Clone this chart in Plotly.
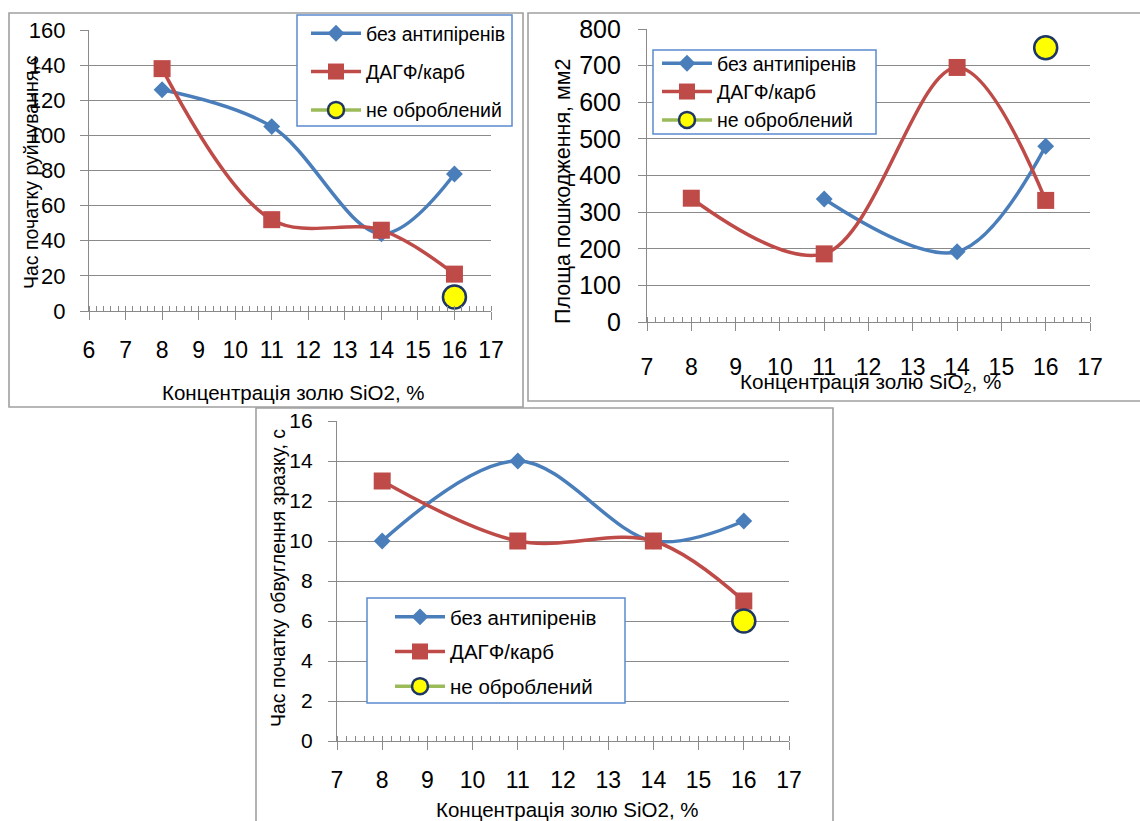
import plotly.graph_objects as go

W, H = 1140, 821

# ---------------- data ----------------
names = ["без антипіренів", "ДАГФ/карб", "не оброблений"]

# chart 1: час початку руйнування
c1_x_bez = [8, 11, 14, 16]
c1_bez = [126, 105, 44, 78]
c1_x_dagf = [8, 11, 14, 16]
c1_dagf = [138, 52, 46, 21]
c1_x_neobr = [16]
c1_neobr = [8]

# chart 2: площа пошкодження
c2_x_bez = [11, 14, 16]
c2_bez = [336, 192, 480]
c2_x_dagf = [8, 11, 14, 16]
c2_dagf = [338, 186, 695, 332]
c2_x_neobr = [16]
c2_neobr = [749]

# chart 3: час початку обвуглення
c3_x_bez = [8, 11, 14, 16]
c3_bez = [10, 14, 10, 11]
c3_x_dagf = [8, 11, 14, 16]
c3_dagf = [13, 10, 10, 7]
c3_x_neobr = [16]
c3_neobr = [6]

x_title_plain = "Концентрація золю SiO2, %"
x_title_sub = "Концентрація золю SiO<sub>2</sub>, %"
y_title1 = "Час початку руйнування,с"
y_title2 = "Площа пошкодження, мм2"
y_title3 = "Час початку обвуглення зразку, с"

# ---------------- style ----------------
FONT = "Liberation Sans, Arial, sans-serif"
BLUE = "#4a7ebb"
RED = "#be4b48"
GREEN = "#9bbb59"
YELLOW = "#ffff00"
NAVY = "#1f3763"
GRID = "#8a8a8a"
FRAME = "#a0a0a0"
LEGBORDER = "#5b8bd0"


def px(x):
    return x / W


def py(y):
    return 1 - y / H


fig = go.Figure()


def add_series(xs_b, ys_b, xs_d, ys_d, xs_n, ys_n, xa, ya, leg, lw=3.5):
    fig.add_trace(go.Scatter(
        x=xs_b, y=ys_b, name=names[0], mode="lines+markers",
        line=dict(color=BLUE, width=lw, shape="spline", smoothing=1.0),
        marker=dict(symbol="diamond", size=13, color=BLUE),
        xaxis=xa, yaxis=ya, legend=leg, legendgroup=leg + "a"))
    fig.add_trace(go.Scatter(
        x=xs_d, y=ys_d, name=names[1], mode="lines+markers",
        line=dict(color=RED, width=lw, shape="spline", smoothing=1.0),
        marker=dict(symbol="square", size=17, color=RED),
        xaxis=xa, yaxis=ya, legend=leg, legendgroup=leg + "b"))
    fig.add_trace(go.Scatter(
        x=xs_n, y=ys_n, name=names[2], mode="lines+markers",
        line=dict(color=GREEN, width=lw),
        marker=dict(symbol="circle", size=23, color=YELLOW,
                    line=dict(color=NAVY, width=2.5)),
        xaxis=xa, yaxis=ya, legend=leg, legendgroup=leg + "c"))


add_series(c1_x_bez, c1_bez, c1_x_dagf, c1_dagf, c1_x_neobr, c1_neobr, "x", "y", "legend")
add_series(c2_x_bez, c2_bez, c2_x_dagf, c2_dagf, c2_x_neobr, c2_neobr, "x2", "y2", "legend2")
add_series(c3_x_bez, c3_bez, c3_x_dagf, c3_dagf, c3_x_neobr, c3_neobr, "x3", "y3", "legend3")


def xaxis_cfg(dom, rng, anchor, fs, standoff):
    return dict(
        domain=dom, range=rng, anchor=anchor, dtick=1, tick0=rng[0],
        showgrid=False, zeroline=False, showline=True, linecolor=GRID, linewidth=1.3,
        ticks="outside", ticklen=8, tickwidth=1.3, tickcolor=GRID,
        minor=dict(ticks="inside", ticklen=5, dtick=0.2, tickcolor=GRID, tickwidth=1, showgrid=False),
        tickfont=dict(family=FONT, size=fs, color="black"),
        ticklabelstandoff=standoff, fixedrange=True, automargin=False)


def yaxis_cfg(dom, rng, dtick, anchor, fs, standoff):
    return dict(
        domain=dom, range=rng, anchor=anchor, dtick=dtick,
        showgrid=True, gridcolor=GRID, gridwidth=1.3, zeroline=False,
        showline=True, linecolor=GRID, linewidth=1.3,
        ticks="outside", ticklen=8, tickwidth=1.3, tickcolor=GRID,
        tickfont=dict(family=FONT, size=fs, color="black"),
        ticklabelstandoff=standoff, fixedrange=True, automargin=False)


# plot-area pixel boxes
P1 = dict(l=89, r=491, t=30, b=311)
P2 = dict(l=647, r=1090, t=29, b=322)
P3 = dict(l=337, r=789, t=421, b=741)

layout = dict(
    width=W, height=H, autosize=False,
    margin=dict(l=0, r=0, t=0, b=0, pad=0, autoexpand=False),
    paper_bgcolor="white", plot_bgcolor="rgba(0,0,0,0)",
    font=dict(family=FONT, color="black"),
    xaxis=xaxis_cfg([px(P1["l"]), px(P1["r"])], [6, 17], "y", 23, 10),
    yaxis=yaxis_cfg([py(P1["b"]), py(P1["t"])], [0, 160], 20, "x", 22, 10),
    xaxis2=xaxis_cfg([px(P2["l"]), px(P2["r"])], [7, 17], "y2", 23, 16),
    yaxis2=yaxis_cfg([py(P2["b"]), py(P2["t"])], [0, 800], 100, "x2", 25, 12),
    xaxis3=xaxis_cfg([px(P3["l"]), px(P3["r"])], [7, 17], "y3", 23, 10),
    yaxis3=yaxis_cfg([py(P3["b"]), py(P3["t"])], [0, 16], 2, "x3", 21, 11),
)


def legend_cfg(x, y, fs, gap):
    return dict(x=px(x), y=py(y), xanchor="left", yanchor="top",
                bgcolor="rgba(0,0,0,0)", borderwidth=0,
                font=dict(family=FONT, size=fs, color="black"),
                itemwidth=50, tracegroupgap=gap, traceorder="grouped")


layout["legend"] = legend_cfg(306, 14, 19.5, 10)
layout["legend2"] = legend_cfg(657, 44, 19.5, 0)
layout["legend3"] = legend_cfg(390, 597, 20.5, 5)

shapes = []
# chart frames
for (x0, y0, x1, y1) in [(256, 408, 833, 830), (528, 13, 1150, 401), (9, 13, 523, 407)]:
    shapes.append(dict(type="rect", xref="paper", yref="paper",
                       x0=px(x0), x1=px(x1), y0=py(y1), y1=py(y0),
                       line=dict(color=FRAME, width=1.6), fillcolor="white", layer="below"))
# legend boxes
for (x0, y0, x1, y1) in [(297, 15, 512, 126), (653, 50, 876, 134), (367, 598, 625, 703)]:
    shapes.append(dict(type="rect", xref="paper", yref="paper",
                       x0=px(x0), x1=px(x1), y0=py(y1), y1=py(y0),
                       line=dict(color=LEGBORDER, width=1.5), fillcolor="white", layer="above"))
layout["shapes"] = shapes


def ann(text, x, y, fs, angle=0):
    return dict(text=text, x=px(x), y=py(y), xref="paper", yref="paper",
                showarrow=False, textangle=angle, xanchor="center", yanchor="middle",
                font=dict(family=FONT, size=fs, color="black"))


layout["annotations"] = [
    ann(x_title_plain, 293, 392, 20.5),
    ann(y_title1, 31, 172, 19.5, -90),
    ann(x_title_sub, 871, 383, 20.7),
    ann(y_title2, 563, 191, 21.5, -90),
    ann(x_title_plain, 567, 809, 20.5),
    ann(y_title3, 278, 578, 19.5, -90),
]

fig.update_layout(**layout)
fig.write_html(
    "out.html",
    config={"displayModeBar": False},
    post_script="document.body.style.margin='0';document.body.style.overflow='hidden';",
)
